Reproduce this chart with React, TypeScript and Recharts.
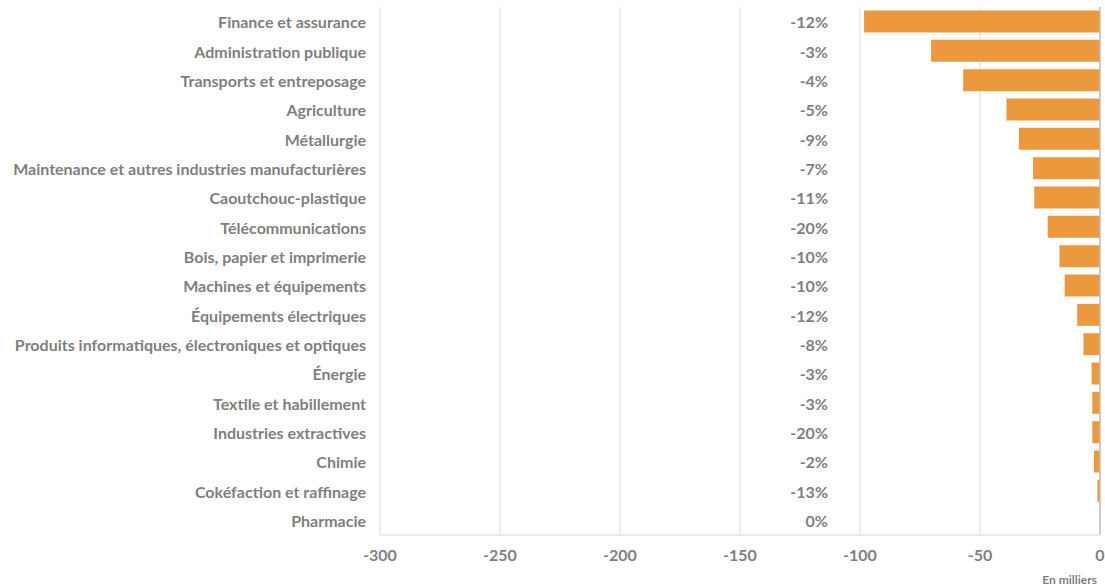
import { BarChart, Bar, XAxis, YAxis, CartesianGrid, ReferenceLine } from 'recharts';

const sectors = [
    'Finance et assurance',
    'Administration publique',
    'Transports et entreposage',
    'Agriculture',
    'Métallurgie ',
    'Maintenance et autres industries manufacturières',
    'Caoutchouc-plastique ',
    'Télécommunications',
    'Bois, papier et imprimerie',
    'Machines et équipements ',
    'Équipements électriques',
    'Produits informatiques, électroniques et optiques',
    'Énergie',
    'Textile et habillement',
    'Industries extractives',
    'Chimie',
    'Cokéfaction et raffinage',
    'Pharmacie',
];

// variation in thousands of jobs
const jobs = [-98.3, -70.4, -57, -39, -33.8, -27.9, -27.4, -21.8, -16.9, -14.7, -9.5, -6.9, -3.5, -3.2, -3.2, -2.5, -1.1, 0];

const pctLabels = ['-12%', '-3%', '-4%', '-5%', '-9%', '-7%', '-11%', '-20%', '-10%', '-10%', '-12%', '-8%', '-3%', '-3%', '-20%', '-2%', '-13%', '0%'];

const xTicks = [-300, -250, -200, -150, -100, -50, 0];

const data = sectors.map((name, i) => ({ name, jobs: jobs[i], pct: pctLabels[i] }));

const GREY = '#7f7f7f';
const FONT = 'Lato, "Open Sans", sans-serif';
const PCT_RIGHT = 828;

// category name on the left, share of jobs lost in the middle of the plot
function SectorTick(props: any) {
    const { x, y, payload, index } = props;
    const idx = payload.index ?? index;
    const common = {
        fill: GREY,
        fontSize: 16,
        fontWeight: 700,
        fontFamily: FONT,
        dominantBaseline: 'central' as const,
        textAnchor: 'end' as const,
    };
    return (
        <g>
            <text x={x} y={y} {...common}>{payload.value}</text>
            <text x={PCT_RIGHT} y={y} {...common}>{pctLabels[idx]}</text>
        </g>
    );
}

export default function App() {
    return (
        <div style={{ position: 'absolute', left: 0, top: 0, width: 1105, height: 586, background: '#fff' }}>
            <BarChart
                width={1105}
                height={586}
                data={data}
                layout="vertical"
                margin={{ top: 7, right: 5, left: 0, bottom: 21 }}
                barCategoryGap="12%"
            >
                <CartesianGrid horizontal={false} vertical={true} stroke="#d9d9d9" />
                <XAxis
                    type="number"
                    domain={[-300, 0]}
                    ticks={xTicks}
                    height={30}
                    axisLine={{ stroke: '#d9d9d9' }}
                    tickLine={false}
                    tickSize={0}
                    tickMargin={15}
                    tick={{ fontSize: 16, fill: GREY, fontWeight: 700, fontFamily: FONT }}
                />
                <YAxis
                    type="category"
                    dataKey="name"
                    width={380}
                    axisLine={false}
                    tickLine={false}
                    tickSize={0}
                    tickMargin={14}
                    interval={0}
                    tick={<SectorTick />}
                />
                <ReferenceLine x={0} stroke="#bfbfbf" strokeWidth={1.5} />
                <Bar dataKey="jobs" fill="#EC993D" isAnimationActive={false} />
            </BarChart>
            <div
                style={{
                    position: 'absolute',
                    right: 8,
                    top: 572,
                    fontFamily: FONT,
                    fontSize: 12,
                    fontWeight: 700,
                    color: GREY,
                }}
            >
                En milliers
            </div>
        </div>
    );
}
